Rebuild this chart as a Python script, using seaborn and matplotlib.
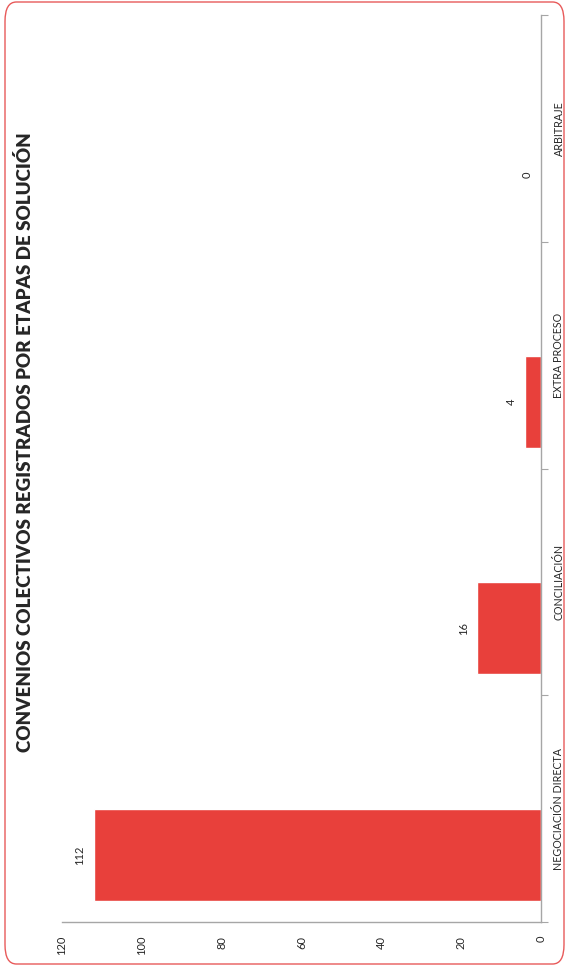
import matplotlib
matplotlib.use("Agg")
import matplotlib.pyplot as plt
from matplotlib.patches import FancyBboxPatch
import numpy as np
import seaborn as sns

# data
categorias = ["NEGOCIACIÓN DIRECTA", "CONCILIACIÓN", "EXTRA PROCESO", "ARBITRAJE"]
convenios = [112, 16, 4, 0]
valor_ticks = [0, 20, 40, 60, 80, 100, 120]
titulo = "CONVENIOS COLECTIVOS REGISTRADOS POR ETAPAS DE SOLUCIÓN"

sns.set_style("white")
plt.rcParams['font.family'] = ['Lato', 'DejaVu Sans']

rojo = '#e8403b'
gris = '#a6a6a6'

fig = plt.figure(figsize=(5.68, 9.66), dpi=100)
ax = fig.add_axes([62/568, 44/966, 479/568, 907/966])

# bars sit in the first half of each category slot (chart was a grouped bar with one series)
pos = np.arange(len(categorias)) + 0.295
sns.barplot(x=convenios, y=pos, orient='h', native_scale=True, width=0.405,
            color=rojo, saturation=1, ax=ax)

ax.set_xlim(120, 0)
ax.set_ylim(0, len(categorias))

# value axis at the bottom, rotated labels
ax.set_xticks(valor_ticks)
ax.set_xticklabels([str(v) for v in valor_ticks], rotation=90, fontsize=8)
ax.tick_params(axis='x', direction='out', length=5, width=0.8, color=gris, pad=5)

# category axis on the right
ax.yaxis.tick_right()
ax.set_yticks(np.arange(len(categorias) + 1))
ax.set_yticklabels([])
ax.set_yticks(np.arange(len(categorias)) + 0.5, minor=True)
ax.set_yticklabels(categorias, minor=True, rotation=90, fontsize=7.7, va='center')
ax.tick_params(axis='y', which='major', direction='out', length=5, width=0.8, color=gris, right=True, left=False)
ax.tick_params(axis='y', which='minor', length=0, pad=9, right=True, left=False)

for s in ['left', 'top']:
    ax.spines[s].set_visible(False)
for s in ['right', 'bottom']:
    ax.spines[s].set_color(gris)
    ax.spines[s].set_linewidth(1)

ax.set_xlabel('')
ax.set_ylabel('')

# data labels
for p, v in zip(pos, convenios):
    ax.annotate(str(v), (v, p), xytext=(-10, 0), textcoords='offset points',
                rotation=90, ha='center', va='center', fontsize=8)

fig.text(25/568, 1 - 442/966, titulo, rotation=90, ha='center', va='center',
         fontsize=13.5, fontweight='heavy')

# rounded border of the chart area
borde = FancyBboxPatch((5/568, 2/966), 559/568, 962/966,
                       boxstyle="round,pad=0,rounding_size=0.02",
                       transform=fig.transFigure, fill=False,
                       edgecolor='#e85a5a', linewidth=1)
fig.patches.append(borde)

fig.savefig('out.png', dpi=100)
